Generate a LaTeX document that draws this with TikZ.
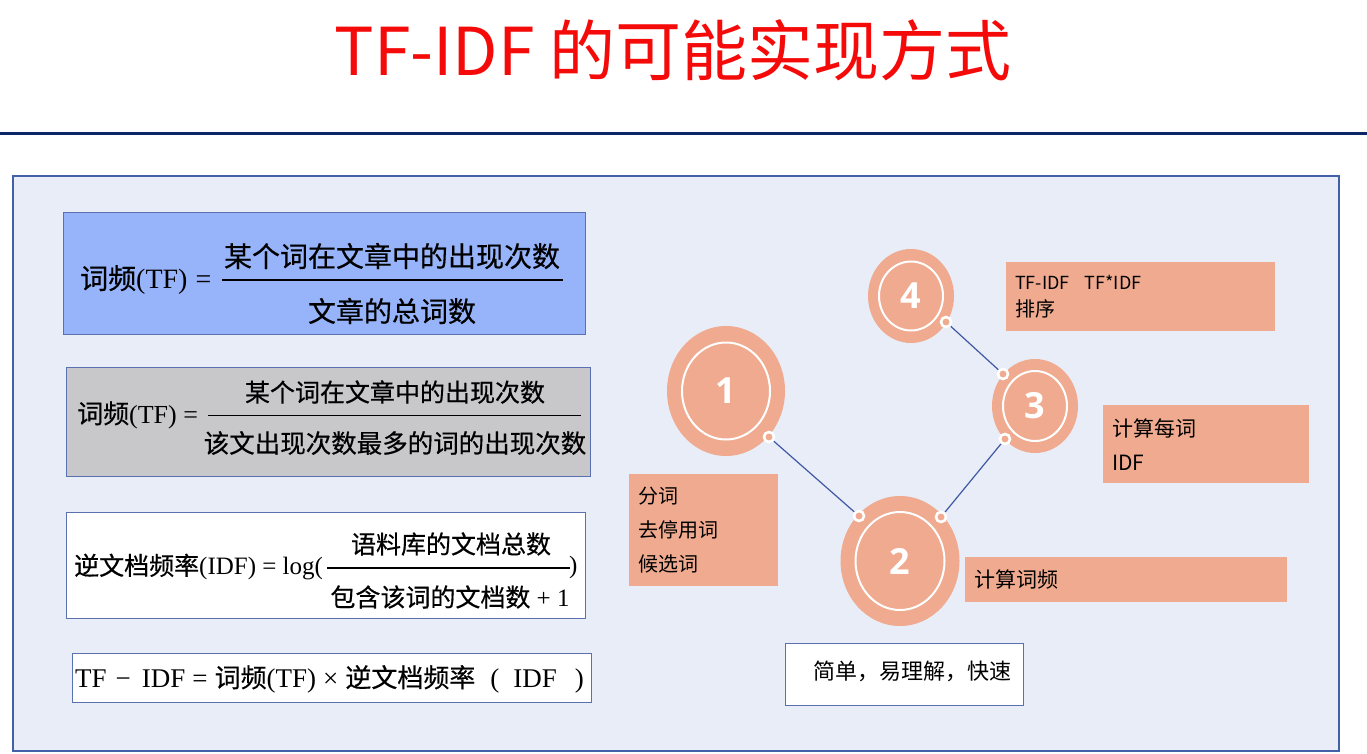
\documentclass[tikz,border=0pt]{standalone}
\usepackage{fontspec}
\setmainfont{Liberation Serif}
\newfontfamily\cjk{Noto Sans CJK SC}
\newfontfamily\cjkf{Noto Sans CJK SC}[FakeBold=0.5]
\newfontfamily\numfont{Open Sans}
\usetikzlibrary{shapes.geometric}

\definecolor{titlered}{HTML}{F50A0A}
\definecolor{navy}{HTML}{0B2566}
\definecolor{panelfill}{HTML}{E9EDF8}
\definecolor{panelline}{HTML}{4261A8}
\definecolor{blueone}{HTML}{97B4FB}
\definecolor{greytwo}{HTML}{C8C8CB}
\definecolor{boxline}{HTML}{5A70B0}
\definecolor{salmon}{HTML}{EFAA8F}
\definecolor{linkblue}{HTML}{3F58A3}

% Chinese text inside the formulas
\newcommand\zh[1]{{\cjkf #1}}

\tikzset{
  fbox/.style={draw=boxline, line width=1pt, anchor=north west, inner sep=0pt},
  fz/.style={inner sep=0pt, font=\fontsize{#1}{#1}\selectfont},
  fracline/.style={line width=1.3pt, black},
  outer/.style={ellipse, fill=salmon, inner sep=0pt},
  ring/.style={ellipse, draw=white, line width=2pt, inner sep=0pt, text=white,
    font=\numfont\bfseries\fontsize{36}{40}\selectfont},
  dot/.style={circle, draw=white, fill=salmon, line width=2.6pt, minimum size=10pt, inner sep=0pt},
  link/.style={linkblue, line width=1.2pt},
  note/.style={fill=salmon, anchor=north west, align=left, inner xsep=9pt, inner ysep=0pt,
    font=\cjk\fontsize{20}{34}\selectfont},
}

\begin{document}
\begin{tikzpicture}[x=1pt,y=-1pt]
\useasboundingbox (0,0) rectangle (1367,754);
\fill[white] (0,0) rectangle (1367,754);

% heading and rule
\node[text=titlered, inner sep=0pt, font=\cjk\fontsize{66}{76}\selectfont] (title) at (673,50) {TF-IDF 的可能实现方式};
\draw[navy, line width=3pt] (0,134) -- (1367,134);

% content panel
\node[draw=panelline, fill=panelfill, line width=1.6pt, anchor=north west, inner sep=0pt,
  minimum width=1326pt, minimum height=575pt] (panel) at (12,175) {};

% formula 1: term frequency
\node[fbox, fill=blueone, minimum width=522pt, minimum height=122pt] (f1) at (63,212) {};
\node[fz=28, anchor=west] (f1l) at (80,280) {\zh{词频}(TF) \hspace{1pt}=};
\node[fz=28] (f1n) at (392,256) {\zh{某个词在文章中的出现次数}};
\node[fz=28] (f1d) at (392,311) {\zh{文章的总词数}};
\draw[fracline] (222,280) -- (563,280);

% formula 2: normalised term frequency
\node[fbox, fill=greytwo, minimum width=524pt, minimum height=109pt] (f2) at (66,367) {};
\node[fz=26, anchor=west] (f2l) at (77,415) {\zh{词频}(TF) =};
\node[fz=25] (f2n) at (395,392) {\zh{某个词在文章中的出现次数}};
\node[fz=25.5] (f2d) at (395,443) {\zh{该文出现次数最多的词的出现次数}};
\draw[fracline] (208,415.5) -- (581,415.5);

% formula 3: inverse document frequency
\node[fbox, fill=white, minimum width=519pt, minimum height=106pt] (f3) at (66,512) {};
\node[fz=25, anchor=west] (f3l) at (74,567) {\zh{逆文档频率}(IDF) = log(};
\node[fz=25] (f3n) at (451,544) {\zh{语料库的文档总数}};
\node[fz=25] (f3d) at (450,597) {\zh{包含该词的文档数} + 1};
\node[fz=25, anchor=west] (f3r) at (569,567) {)};
\draw[fracline] (327,568) -- (570,568);

% formula 4: product
\node[fbox, fill=white, minimum width=519pt, minimum height=49pt] (f4) at (72,653) {};
\node[fz=27, anchor=west] (f4t) at (75,679)
  {TF\hspace{9pt}−\hspace{11pt}IDF\hspace{7pt}=\hspace{7pt}{\fontsize{26}{26}\selectfont\zh{词频}}(TF)\hspace{7pt}×\hspace{7pt}{\fontsize{26}{26}\selectfont\zh{逆文档频率}}\hspace{15pt}(\hspace{14pt}IDF\hspace{18pt})};

% process steps
\node[outer, minimum width=118pt, minimum height=130pt] (c1) at (726,391) {};
\node[ring, minimum width=88pt, minimum height=97pt] (r1) at (726,391) {1};
\node[outer, minimum width=119pt, minimum height=130pt] (c2) at (900,561) {};
\node[ring, minimum width=89pt, minimum height=98pt] (r2) at (900,561) {2};
\node[outer, minimum width=86pt, minimum height=94pt] (c3) at (1035,406) {};
\node[ring, minimum width=64pt, minimum height=70pt] (r3) at (1035,406) {3};
\node[outer, minimum width=86pt, minimum height=94pt] (c4) at (911,296) {};
\node[ring, minimum width=64pt, minimum height=69pt] (r4) at (911,296) {4};

\coordinate (p1) at (769,437);
\coordinate (p2a) at (859,516);
\coordinate (p2b) at (941,517);
\coordinate (p3a) at (1005,439);
\coordinate (p3b) at (1003,374);
\coordinate (p4) at (946,322);
\draw[link] (p1) -- (p2a);
\draw[link] (p2b) -- (p3a);
\draw[link] (p3b) -- (p4);
\foreach \p in {p1,p2a,p2b,p3a,p3b,p4} \node[dot] (d\p) at (\p) {};

% step notes
\node[note, text width=131pt, minimum height=112pt] (n1) at (629,474) {分词\\去停用词\\候选词};
\node[note, text width=304pt, minimum height=45pt, font=\cjk\fontsize{21}{34}\selectfont] (n2) at (965,557) {计算词频};
\node[note, text width=188pt, minimum height=78pt, font=\cjk\fontsize{21}{34}\selectfont] (n3) at (1103,405) {计算每词\\IDF};
\node[note, text width=251pt, minimum height=69pt, font=\cjk\fontsize{18}{27}\selectfont] (n4) at (1006,262) {TF-IDF\hspace{15pt}TF*IDF\\{\fontsize{20}{27}\selectfont 排序}};

% summary
\node[draw=boxline, fill=white, line width=1pt, anchor=north west, inner xsep=9pt, inner ysep=0pt,
  text width=220pt, minimum height=62pt, align=left, font=\cjk\fontsize{22}{26}\selectfont] (sum) at (785,643)
  {\hspace*{19pt}简单，易理解，快速\vspace{6pt}};
\end{tikzpicture}
\end{document}
